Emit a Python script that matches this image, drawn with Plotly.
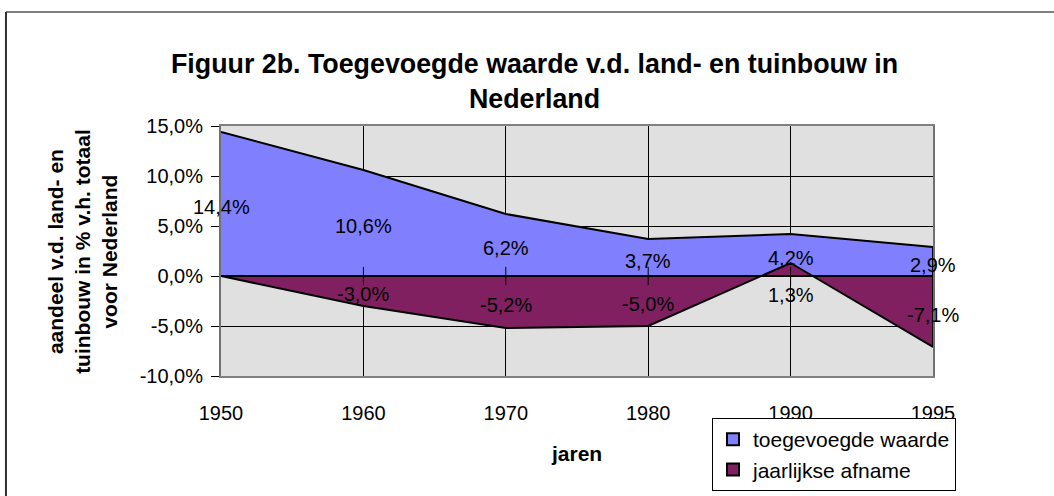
import plotly.graph_objects as go

# ---- data ----
jaren = ["1950", "1960", "1970", "1980", "1990", "1995"]
toegevoegde_waarde = [14.4, 10.6, 6.2, 3.7, 4.2, 2.9]
jaarlijkse_afname = [0.0, -3.0, -5.2, -5.0, 1.3, -7.1]
afname_labels_shown = [False, True, True, True, True, True]
y_ticks = [-10, -5, 0, 5, 10, 15]

BLUE = "#8080FF"
PURPLE = "#802060"
FONT = "Arial, 'Liberation Sans', sans-serif"


def fmt(v):
    return f"{v:.1f}".replace(".", ",") + "%"


fig = go.Figure()

# closed area polygons (value line + baseline), Excel style
poly_x = jaren + jaren[::-1]
fig.add_trace(go.Scatter(
    x=poly_x, y=toegevoegde_waarde + [0] * len(jaren),
    fill="toself", fillcolor=BLUE, mode="lines",
    line=dict(color="black", width=2), showlegend=False, hoverinfo="skip"))
fig.add_trace(go.Scatter(
    x=poly_x, y=jaarlijkse_afname + [0] * len(jaren),
    fill="toself", fillcolor=PURPLE, mode="lines",
    line=dict(color="black", width=2), showlegend=False, hoverinfo="skip"))

# crossing tick marks on the category axis at y=0
fig.add_trace(go.Scatter(
    x=jaren[1:-1], y=[0] * (len(jaren) - 2), mode="markers",
    marker=dict(symbol="line-ns-open", size=13, color="black",
                line=dict(color="black", width=1)),
    showlegend=False, hoverinfo="skip"))

# legend entries
fig.add_trace(go.Scatter(
    x=[None], y=[None], mode="markers", name="toegevoegde waarde",
    marker=dict(symbol="square", size=14, color=BLUE, line=dict(color="black", width=2))))
fig.add_trace(go.Scatter(
    x=[None], y=[None], mode="markers", name="jaarlijkse afname",
    marker=dict(symbol="square", size=14, color=PURPLE, line=dict(color="black", width=2))))

# data labels (centred at half the value, as Excel places area labels)
label_yshift_tw = [-3] * len(jaren)
label_yshift_af = [-3, -3, -3, -3, -25, -3]
for i, (v, ys) in enumerate(zip(toegevoegde_waarde, label_yshift_tw)):
    fig.add_annotation(x=i, y=v / 2, text=fmt(v), showarrow=False, yshift=ys,
                       font=dict(size=20, color="black", family=FONT))
for i, (v, ys, show) in enumerate(zip(jaarlijkse_afname, label_yshift_af, afname_labels_shown)):
    if show:
        fig.add_annotation(x=i, y=v / 2, text=fmt(v), showarrow=False, yshift=ys,
                           font=dict(size=20, color="black", family=FONT))

# chart title
fig.add_annotation(
    xref="paper", yref="paper", x=0.441, y=1.18,
    text="<b>Figuur 2b. Toegevoegde waarde v.d. land- en tuinbouw in<br>Nederland</b>",
    showarrow=False, xanchor="center", yanchor="middle",
    font=dict(size=26.8, color="black", family=FONT))

# axis titles
fig.add_annotation(
    xref="paper", yref="paper", x=-0.194, y=0.5, textangle=-90,
    text="<b>aandeel v.d. land- en<br>tuinbouw in % v.h. totaal<br>voor Nederland</b>",
    showarrow=False, xanchor="center", yanchor="middle",
    font=dict(size=21, color="black", family=FONT))
fig.add_annotation(
    xref="paper", yref="paper", x=0.4986, y=-0.308, text="<b>jaren</b>",
    showarrow=False, xanchor="center", yanchor="middle",
    font=dict(size=21, color="black", family=FONT))

# outer chart frame (top and left edges visible)
fig.add_shape(type="line", xref="paper", yref="paper",
              x0=-0.302, x1=1.3, y0=1.456, y1=1.456,
              line=dict(color="#808080", width=2))
fig.add_shape(type="line", xref="paper", yref="paper",
              x0=-0.302, x1=-0.302, y0=1.456, y1=-0.6,
              line=dict(color="#303030", width=2))

fig.update_layout(
    width=1054, height=496, autosize=False,
    margin=dict(l=221, r=121, t=126, b=120, autoexpand=False),
    paper_bgcolor="white", plot_bgcolor="#E0E0E0",
    separators=",.",
    font=dict(family=FONT, size=20, color="black"),
    showlegend=True,
    hovermode=False,
    legend=dict(
        x=(712 - 221) / 712, y=(376 - 418) / 250, xanchor="left", yanchor="top",
        bgcolor="white", bordercolor="black", borderwidth=1,
        font=dict(size=21, color="black", family=FONT),
        itemwidth=30, tracegroupgap=0, itemsizing="constant"),
)

fig.update_xaxes(
    type="category", categoryorder="array", categoryarray=jaren,
    range=[0, len(jaren) - 1], showgrid=True, gridcolor="black", gridwidth=1,
    zeroline=False, showline=True, mirror=True, linecolor="#808080", linewidth=2,
    ticks="", ticklabelstandoff=18, tickfont=dict(size=20))

fig.update_yaxes(
    range=[-10, 15], tickvals=y_ticks, ticktext=[fmt(v) for v in y_ticks],
    showgrid=True, gridcolor="black", gridwidth=1, zeroline=False,
    showline=True, mirror=True, linecolor="#707070", linewidth=2,
    ticks="outside", ticklen=8, tickcolor="black", tickwidth=1,
    ticklabelstandoff=4, tickfont=dict(size=20))

fig.write_html(
    "out.html",
    config={"displayModeBar": False},
    post_script="document.body.style.margin='0';document.body.style.overflow='hidden';")
